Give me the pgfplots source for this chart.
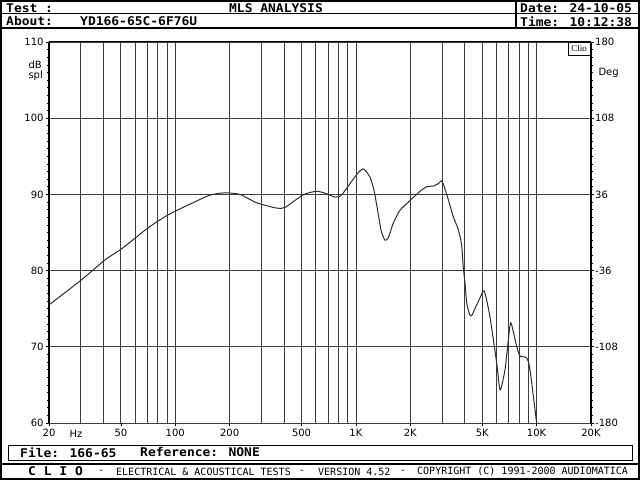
\documentclass[border=0pt]{standalone}
\usepackage{fontspec}
\usepackage{pgfplots}
\pgfplotsset{compat=1.18}
\setmainfont{DejaVu Sans}
\newfontfamily\hdr[FakeStretch=1.08]{DejaVu Sans Mono}
\newfontfamily\mono{DejaVu Sans Mono}
\newfontfamily\clio{Liberation Serif}

\definecolor{gridc}{RGB}{60,60,60}
\definecolor{curvec}{RGB}{45,45,45}

\pgfplotstableread{
f db
20 75.5
30.3 78.8
40.8 81.4
51.4 83.0
70.6 85.6
91 87.3
117.6 88.6
155.6 89.9
188 90.2
228 90.0
282 88.9
364 88.2
405 88.3
511 89.95
606 90.4
688 90.1
765 89.65
834 89.95
1009 92.6
1097 93.35
1194 92.3
1260 90.5
1320 87.8
1380 85.2
1447 84.0
1510 84.3
1608 86.2
1751 87.9
1991 89.2
2260 90.4
2462 91.0
2680 91.1
2850 91.4
2980 91.8
3040 91.4
3245 89.3
3455 87.1
3683 85.4
3845 83.4
3925 80.5
4012 78.4
4100 75.8
4250 74.3
4370 74.1
4656 75.5
4900 76.6
5060 77.3
5173 77.1
5513 74.0
6008 67.9
6200 65.0
6320 64.4
6683 67.0
7117 72.7
7273 72.9
7750 70.1
8084 68.8
8808 68.55
9185 67.0
10000 60.0
}\spl

\tikzset{
  hd/.style={font=\hdr\bfseries\fontsize{12}{12}\selectfont, anchor=west, inner sep=0pt},
  ft/.style={font=\mono\fontsize{10}{10}\selectfont, anchor=west, inner sep=0pt},
  lb/.style={font=\fontsize{10}{11}\selectfont},
}

\begin{document}
\begin{tikzpicture}[x=1pt,y=1pt]
\path[use as bounding box] (0,0) rectangle (640,480);
\fill[white] (0,0) rectangle (640,480);

\begin{axis}[
  at={(49pt,57pt)}, anchor=south west,
  scale only axis, width=542pt, height=381pt,
  xmode=log, xmin=20, xmax=20000, ymin=60, ymax=110,
  xtick={20,50,100,200,500,1000,2000,5000,10000,20000},
  xticklabels={20,50,100,200,500,1K,2K,5K,10K,20K},
  extra x ticks={30,40,60,70,80,90,300,400,600,700,800,900,3000,4000,6000,7000,8000,9000},
  extra x tick labels={},
  extra x tick style={grid=major, major tick length=0pt},
  ytick={60,70,...,110},
  yticklabels={60,70,80,90,100,110},
  minor y tick num=9,
  grid=major,
  major grid style={gridc, line width=0.9pt},
  xtick pos=bottom, ytick pos=both,
  tick align=outside,
  major tick length=3pt, minor tick length=2pt,
  every tick/.style={black, line width=0.7pt},
  axis line style={draw=none},
  tick label style={font=\fontsize{10}{11}\selectfont, black},
  xticklabel style={yshift=0pt},
  yticklabel style={xshift=1pt},
  clip=true,
]
\addplot[curvec, line width=1pt, smooth, tension=0.4] table[x=f, y=db] {\spl};
\end{axis}

% plot frame
\draw[black, line width=1pt] (49,438) -- (591,438);
\draw[black, line width=2pt] (49,438) -- (49,57);
\draw[black, line width=1.5pt] (591,438) -- (591,57);

% side texts
\node[lb, anchor=base] at (76,43) {Hz};
\node[lb, anchor=west] at (25,415) {dB};
\node[lb, anchor=west] at (25,404) {spl};
\node[lb, anchor=west] at (595,407) {Deg};
\foreach \v/\yy in {180/438,108/361.8,36/285.6,-36/209.4,-108/133.2,-180/57}
  \node[lb, anchor=west, inner sep=1pt] at (594,\yy) {\v};
\draw[black, line width=0.6pt, fill=white] (568,438) rectangle (590,425);
\node[font=\clio\fontsize{9}{10}\selectfont, inner sep=0pt] at (579,431.5) {Clio};

% header
\draw[black, line width=1pt] (0,466) -- (640,466);
\draw[black, line width=2pt] (0,452) -- (640,452);
\draw[black, line width=2pt] (516,480) -- (516,452);
\node[hd] at (6,472) {Test :};
\node[hd, anchor=center] at (276,472) {MLS ANALYSIS};
\node[hd] at (520,472) {Date: 24-10-05};
\node[hd] at (6,458.5) {About:};
\node[hd] at (80,458.5) {YD166-65C-6F76U};
\node[hd] at (520,458.5) {Time: 10:12:38};

% footer
\draw[black, line width=1pt] (8,35) rectangle (632,20);
\node[hd] at (20,27.5) {File: 166-65};
\node[hd] at (140,27.5) {Reference: NONE};
\draw[black, line width=1.5pt] (0,16) -- (640,16);
\node[hd] at (28,8.5) {C L I O};
\node[ft] at (98,8.5) {-};
\node[ft] at (116,8.5) {ELECTRICAL \& ACOUSTICAL TESTS};
\node[ft] at (299,8.5) {-};
\node[ft] at (318,8.5) {VERSION 4.52};
\node[ft] at (400,8.5) {-};
\node[ft] at (417,8.5) {COPYRIGHT (C) 1991-2000 AUDIOMATICA};

% outer border
\draw[black, line width=2pt] (1,1) rectangle (639,479);
\end{tikzpicture}
\end{document}
